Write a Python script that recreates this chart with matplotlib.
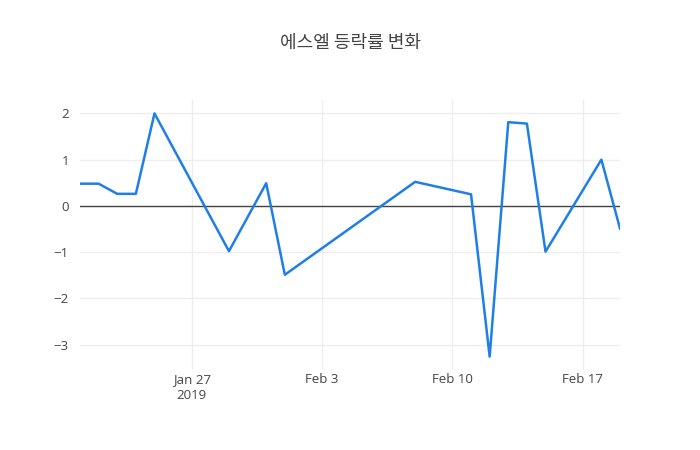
import pandas as pd
import matplotlib
matplotlib.use('Agg')
import matplotlib.pyplot as plt

# Data
dates = ['2019-01-21', '2019-01-22', '2019-01-23', '2019-01-24', '2019-01-25',
         '2019-01-29', '2019-01-31', '2019-02-01', '2019-02-08', '2019-02-11',
         '2019-02-12', '2019-02-13', '2019-02-14', '2019-02-15', '2019-02-18',
         '2019-02-19']
changes = [0.48, 0.48, 0.26, 0.26, 2.0, -0.98, 0.49, -1.49, 0.52, 0.25,
           -3.26, 1.81, 1.78, -0.99, 1.0, -0.49]
yticks = [-3, -2, -1, 0, 1, 2]
title = '에스엘 등락률 변화'

x = pd.to_datetime(dates)

plt.rcParams['font.family'] = ['Open Sans', 'Noto Sans CJK KR', 'DejaVu Sans']

fig = plt.figure(figsize=(7, 4.5), dpi=100)
ax = fig.add_axes([80 / 700, 80 / 450, 540 / 700, 270 / 450])

ax.plot(x, changes, color='#1f7fe5', linewidth=1.8, zorder=3)
ax.axhline(0, color='#444444', linewidth=1, zorder=2)

ax.set_xlim(x[0], x[-1])
ax.set_ylim(-3.55, 2.29)
ax.set_yticks(yticks)
ax.set_yticklabels(['\u22123', '\u22122', '\u22121', '0', '1', '2'])

ticks = pd.to_datetime(['2019-01-27', '2019-02-03', '2019-02-10', '2019-02-17'])
ax.set_xticks(ticks)
ax.set_xticklabels(['Jan 27\n2019', 'Feb 3', 'Feb 10', 'Feb 17'])

ax.grid(True, color='#eeeeee', linewidth=1, zorder=0)
for s in ax.spines.values():
    s.set_visible(False)
ax.tick_params(length=0, colors='#444444', labelsize=9.5, pad=8)
ax.tick_params(axis='x', pad=2)
for lbl in ax.get_xticklabels():
    lbl.set_linespacing(1.3)

fig.text(0.5, 1 - 43 / 450, title, ha='center', va='center', fontsize=13,
         color='#444444', family=['Noto Sans CJK KR', 'DejaVu Sans'])

fig.savefig('out.png', dpi=100)
